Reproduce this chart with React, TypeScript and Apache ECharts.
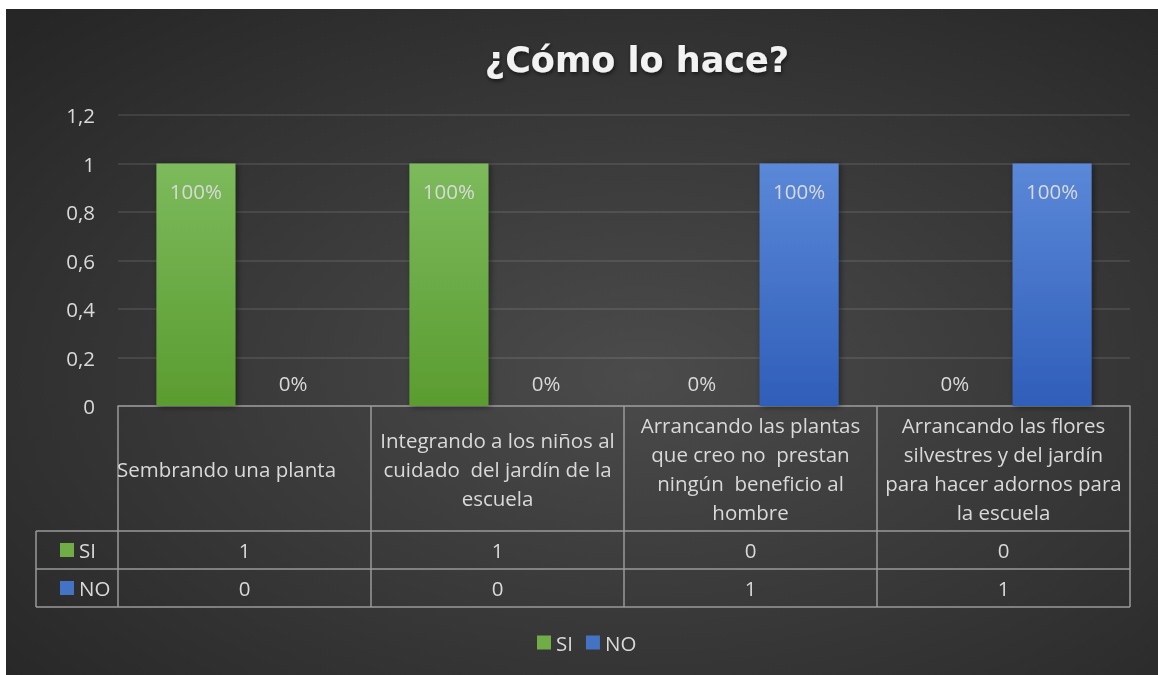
import React, { useEffect, useRef } from "react";
import * as echarts from "echarts";

const title = "¿Cómo lo hace?";
const categories = [
  "Sembrando una planta",
  "Integrando a los niños al\ncuidado  del jardín de la\nescuela",
  "Arrancando las plantas\nque creo no  prestan\nningún  beneficio al\nhombre",
  "Arrancando las flores\nsilvestres y del jardín\npara hacer adornos para\nla escuela",
];
const seriesNames = ["SI", "NO"];
const siValues = [1, 1, 0, 0];
const noValues = [0, 0, 1, 1];
const yMin = 0;
const yMax = 1.2;
const yStep = 0.2;

const FONT = "'Open Sans', 'Noto Sans', sans-serif";
const FS = 20.5;
const TXT = "#d9d9d9";
const LINE = "#9a9a9a";
const GREEN = "#70ad47";
const BLUE = "#4472c4";

const greenGrad = new echarts.graphic.LinearGradient(0, 0, 0, 1, [
  { offset: 0, color: "#7cba5c" },
  { offset: 1, color: "#5b9c30" },
]);
const blueGrad = new echarts.graphic.LinearGradient(0, 0, 0, 1, [
  { offset: 0, color: "#5b88d8" },
  { offset: 1, color: "#2f5eb9" },
]);

function makeData(vals: number[]) {
  return vals.map((v) => ({
    value: v,
    label: v > 0 ? { position: "insideTop", distance: 17 } : { position: "top", distance: 13 },
  }));
}

export default function App() {
  const ref = useRef<HTMLDivElement>(null);
  useEffect(() => {
    if (!ref.current) return;
    const chart = echarts.init(ref.current, undefined, { renderer: "svg" });
    const labelCfg = {
      show: true,
      color: TXT,
      fontSize: FS,
      fontFamily: FONT,
      formatter: (p: any) => Math.round(p.value * 100) + "%",
    };
    const barStyle = {
      shadowBlur: 6,
      shadowColor: "rgba(0,0,0,0.45)",
      shadowOffsetX: 2,
      shadowOffsetY: 1,
    };
    chart.setOption({
      animation: false,
      backgroundColor: {
        type: "radial",
        x: 0.55,
        y: 0.55,
        r: 0.75,
        colorStops: [
          { offset: 0, color: "#4b4b4b" },
          { offset: 1, color: "#262626" },
        ],
      },
      grid: { left: 112, right: 28, top: 106, bottom: 269, containLabel: false },
      legend: {
        data: seriesNames.map((n, i) => ({ name: n, itemStyle: { color: i === 0 ? GREEN : BLUE } })),
        left: 526,
        top: 618,
        icon: "rect",
        itemWidth: 14,
        itemHeight: 14,
        itemGap: 13,
        textStyle: { color: TXT, fontSize: FS, fontFamily: FONT },
      },
      xAxis: {
        type: "category",
        data: categories,
        axisLine: { show: true, lineStyle: { color: LINE, width: 1.5 } },
        axisTick: { show: false },
        axisLabel: { show: false },
        splitLine: { show: false },
      },
      yAxis: {
        type: "value",
        min: yMin,
        max: yMax,
        interval: yStep,
        axisLine: { show: false },
        axisTick: { show: false },
        axisLabel: {
          color: TXT,
          fontSize: FS,
          fontFamily: FONT,
          margin: 23,
          formatter: (v: number) => String(+v.toFixed(1)).replace(".", ","),
        },
        splitLine: { lineStyle: { color: "rgba(255,255,255,0.13)", width: 1.5 } },
      },
      series: [
        {
          name: seriesNames[0],
          type: "bar",
          data: makeData(siValues),
          barWidth: 79,
          barGap: "23%",
          itemStyle: { color: greenGrad, ...barStyle },
          label: labelCfg,
        },
        {
          name: seriesNames[1],
          type: "bar",
          data: makeData(noValues),
          barWidth: 79,
          barGap: "23%",
          itemStyle: { color: blueGrad, ...barStyle },
          label: labelCfg,
        },
      ],
    });

    // data table below the axis
    const x0 = chart.convertToPixel({ xAxisIndex: 0 }, 0) as number;
    const x1 = chart.convertToPixel({ xAxisIndex: 0 }, 1) as number;
    const colW = x1 - x0;
    const yBase = chart.convertToPixel({ yAxisIndex: 0 }, 0) as number;
    const left = x0 - colW / 2;
    const right = left + colW * categories.length;
    const headH = 125;
    const rowH = 38;
    const keyLeft = 30;
    const rows = [siValues, noValues];
    const rowColors = [GREEN, BLUE];
    const lineStyle = { stroke: LINE, lineWidth: 1.5 };
    const els: any[] = [];
    const yHeadBottom = yBase + headH;
    const yEnd = yHeadBottom + rowH * rows.length;
    for (let i = 0; i <= categories.length; i++) {
      const x = left + colW * i;
      els.push({ type: "line", shape: { x1: x, y1: yBase, x2: x, y2: yEnd }, style: lineStyle, silent: true });
    }
    els.push({ type: "line", shape: { x1: keyLeft, y1: yHeadBottom, x2: keyLeft, y2: yEnd }, style: lineStyle });
    for (let r = 0; r <= rows.length; r++) {
      const y = yHeadBottom + rowH * r;
      els.push({ type: "line", shape: { x1: keyLeft, y1: y, x2: right, y2: y }, style: lineStyle });
    }
    categories.forEach((c, i) => {
      els.push({
        type: "text",
        x: left + colW * (i + 0.5) - (i === 0 ? 18 : 0),
        y: yBase + headH / 2,
        style: {
          text: c,
          fill: TXT,
          font: `${FS}px ${FONT}`,
          textAlign: "center",
          textVerticalAlign: "middle",
          lineHeight: 29,
        },
      });
    });
    rows.forEach((vals, r) => {
      const yc = yHeadBottom + rowH * (r + 0.5);
      els.push({
        type: "rect",
        shape: { x: keyLeft + 24, y: yc - 7, width: 14, height: 14 },
        style: { fill: rowColors[r] },
      });
      els.push({
        type: "text",
        x: keyLeft + 43,
        y: yc,
        style: { text: seriesNames[r], fill: TXT, font: `${FS}px ${FONT}`, textAlign: "left", textVerticalAlign: "middle" },
      });
      vals.forEach((v, i) => {
        els.push({
          type: "text",
          x: left + colW * (i + 0.5),
          y: yc,
          style: { text: String(v), fill: TXT, font: `${FS}px ${FONT}`, textAlign: "center", textVerticalAlign: "middle" },
        });
      });
    });
    els.push({
      type: "text",
      x: 631,
      y: 51,
      style: {
        text: title,
        fill: "#f2f2f2",
        font: `bold 35px 'DejaVu Sans', sans-serif`,
        textAlign: "center",
        textVerticalAlign: "middle",
        textShadowColor: "rgba(0,0,0,0.6)",
        textShadowBlur: 4,
        textShadowOffsetX: 1,
        textShadowOffsetY: 2,
      },
    });
    chart.setOption({ graphic: { elements: els } });
    return () => chart.dispose();
  }, []);
  return (
    <div
      ref={ref}
      style={{ position: "fixed", left: 6, top: 9, width: 1152, height: 666 }}
    />
  );
}
